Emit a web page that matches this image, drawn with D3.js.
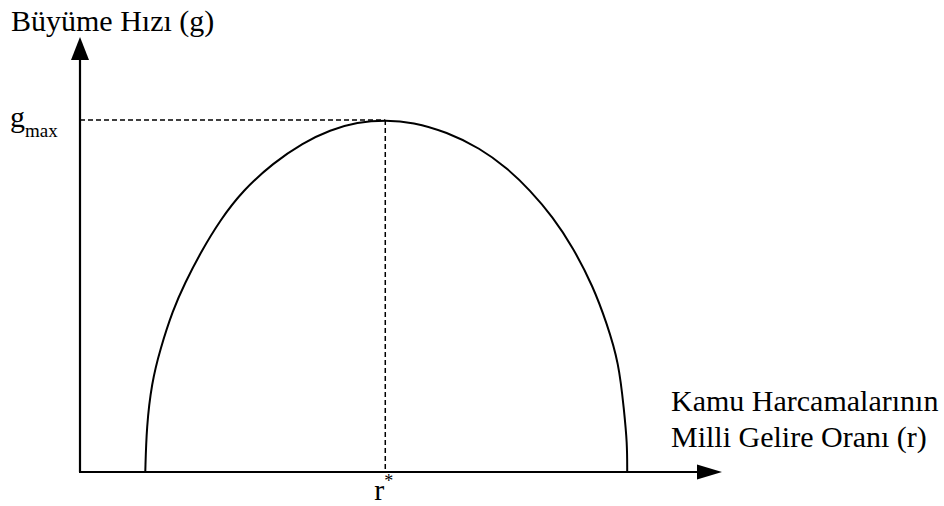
<!DOCTYPE html>
<html>
<head>
<meta charset="utf-8">
<script src="https://cdn.jsdelivr.net/npm/d3@7"></script>
<style>
  body { margin: 0; background: #fff; }
  svg { display: block; }
</style>
</head>
<body>
<script>
// Curve: r (share of public spending) vs g (growth), 0-100 units
var rValues = [10.2, 10.4, 11.2, 12.5, 14.5, 16.4, 18.8, 21.9, 25.5, 30.2, 34.8, 39.1, 43.3, 47.8,
               52.0, 57.3, 62.5, 66.7, 70.3, 73.9, 77.0, 80.2, 82.3, 84.2, 85.0, 85.5, 85.5];
var gValues = [0, 12.9, 25.3, 34.7, 46.0, 53.7, 62.2, 71.6, 80.1, 87.8, 93.5, 97.2, 99.4, 100,
               99.4, 96.6, 92.0, 86.4, 80.1, 72.4, 63.9, 52.6, 42.3, 31.0, 17.6, 8.2, 0];
var rStar = 47.7;
var gMax = 100;
var yLabel = "Büyüme Hızı (g)";
var xLabel = ["Kamu Harcamalarının", "Milli Gelire Oranı (r)"];

var width = 944, height = 506;
var serif = "'Liberation Serif', 'DejaVu Serif', 'Times New Roman', Times, serif";

var x = d3.scaleLinear().domain([0, 100]).range([80, 720]);
var y = d3.scaleLinear().domain([0, 100]).range([472, 120]);

var svg = d3.select("body").append("svg")
  .attr("width", width).attr("height", height);

// Axes
svg.append("line")
  .attr("x1", x(0)).attr("y1", y(0)).attr("x2", x(0)).attr("y2", 58)
  .attr("stroke", "#000").attr("stroke-width", 2.2);
svg.append("path")
  .attr("d", "M" + (x(0) - 9) + ",60L" + x(0) + ",37L" + (x(0) + 9) + ",60Z")
  .attr("fill", "#000");

svg.append("line")
  .attr("x1", x(0) - 1).attr("y1", y(0)).attr("x2", 699).attr("y2", y(0))
  .attr("stroke", "#000").attr("stroke-width", 2.2);
svg.append("path")
  .attr("d", "M697," + (y(0) - 7.5) + "L722," + y(0) + "L697," + (y(0) + 7.5) + "Z")
  .attr("fill", "#000");

// Dashed guides to the peak
svg.append("line")
  .attr("x1", x(0)).attr("y1", y(gMax)).attr("x2", x(rStar)).attr("y2", y(gMax))
  .attr("stroke", "#000").attr("stroke-width", 1.5).attr("stroke-dasharray", "5,3");
svg.append("line")
  .attr("x1", x(rStar)).attr("y1", y(gMax)).attr("x2", x(rStar)).attr("y2", y(0))
  .attr("stroke", "#000").attr("stroke-width", 1.5).attr("stroke-dasharray", "5,3");

// Curve
var line = d3.line()
  .x(function(d){ return x(d[0]); })
  .y(function(d){ return y(d[1]); })
  .curve(d3.curveBasis);

svg.append("path")
  .datum(d3.zip(rValues, gValues))
  .attr("d", line)
  .attr("fill", "none")
  .attr("stroke", "#000")
  .attr("stroke-width", 2);

// Labels
function label(xp, yp, size){
  return svg.append("text").attr("x", xp).attr("y", yp)
    .attr("font-family", serif).attr("font-size", size).attr("fill", "#000");
}

label(11, 31, 30).text(yLabel);

var gm = label(10, y(gMax) + 7, 30);
gm.append("tspan").text("g");
gm.append("tspan").attr("font-size", 19).attr("dy", 10).text("max");

var rs = label(x(rStar) - 11, 500, 30);
rs.append("tspan").text("r");
rs.append("tspan").attr("font-size", 18).attr("dy", -13).text("*");

label(671, 411, 30).text(xLabel[0]);
label(671, 447, 30).text(xLabel[1]);
</script>
</body>
</html>
